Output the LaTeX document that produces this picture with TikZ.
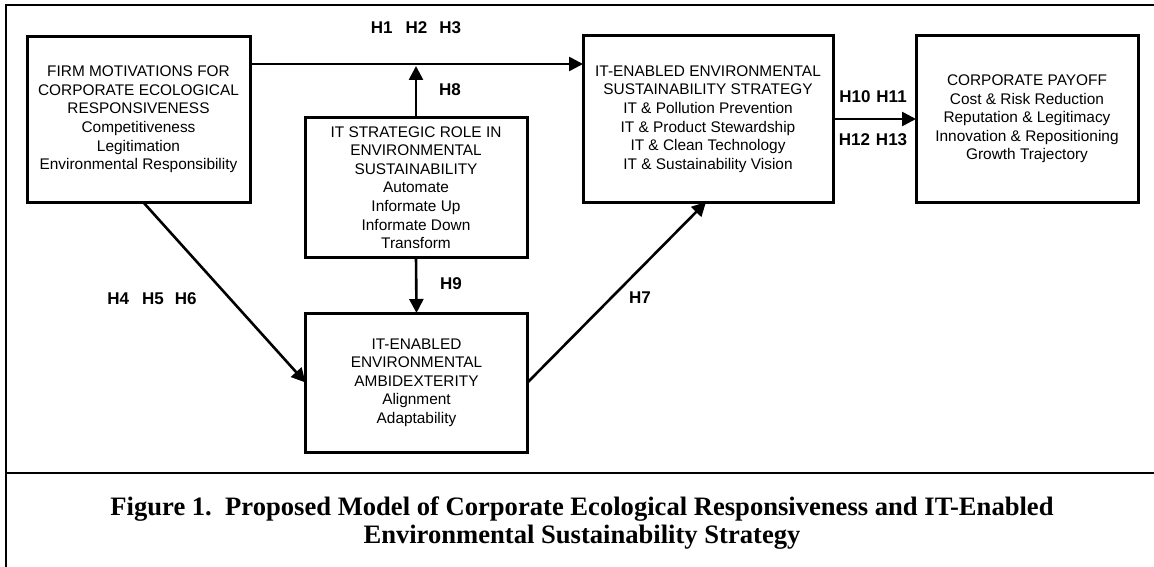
\documentclass[tikz,border=0pt]{standalone}
\usepackage{fontspec}
\setmainfont{Liberation Serif}
\newfontfamily\arial{Liberation Sans}
\usetikzlibrary{arrows.meta}
\tikzset{
  box/.style={draw, line width=3pt, inner sep=0pt, outer sep=0pt, align=center,
    font=\arial\fontsize{15.4}{18.6}\selectfont},
  arr/.style={line width=2.6pt, -{Triangle[length=14pt,width=14pt]}},
  hlab/.style={font=\arial\bfseries\fontsize{17}{19}\selectfont, inner sep=0pt},
  capt/.style={font=\bfseries\fontsize{26.6}{28}\selectfont, inner sep=0pt, anchor=base},
  frame/.style={line width=2pt}
}
\begin{document}
\begin{tikzpicture}[x=1pt,y=-1pt]
\useasboundingbox (0,0) rectangle (1154,567);
% frame
\draw[frame] (6,567) -- (6,5) -- (1154,5);
\draw[frame] (6,473) -- (1154,473);
% boxes
\node[box, minimum width=223pt, minimum height=165pt] (A) at (138.5,119.5)
  {FIRM MOTIVATIONS FOR\\CORPORATE ECOLOGICAL\\RESPONSIVENESS\\Competitiveness\\Legitimation\\Environmental Responsibility};
\node[box, minimum width=222pt, minimum height=139pt] (B) at (416,187.5)
  {IT STRATEGIC ROLE IN\\ENVIRONMENTAL\\SUSTAINABILITY\\Automate\\Informate Up\\Informate Down\\Transform};
\node[box, minimum width=250pt, minimum height=166pt] (C) at (708,119)
  {IT-ENABLED ENVIRONMENTAL\\SUSTAINABILITY STRATEGY\\IT \& Pollution Prevention\\IT \& Product Stewardship\\IT \& Clean Technology\\IT \& Sustainability Vision};
\node[box, minimum width=222pt, minimum height=166pt] (D) at (1027,119)
  {CORPORATE PAYOFF\\Cost \& Risk Reduction\\Reputation \& Legitimacy\\Innovation \& Repositioning\\Growth Trajectory};
\node[box, minimum width=222pt, minimum height=139pt] (E) at (416.5,382.5)
  {IT-ENABLED\\ENVIRONMENTAL\\AMBIDEXTERITY\\Alignment\\Adaptability};
% connectors
\coordinate (j) at (416,64);
\coordinate (jt) at (416,66);
\draw[arr] (A.east |- j) -- (C.west |- j);
\draw[arr] (B.north) -- (jt);
\draw[arr] (B.south) -- (E.north);
\draw[arr] (C.east) -- (D.west);
\draw[arr] ([xshift=4.5pt]A.south) -- (E.west);
\draw[arr] (E.east) -- ([xshift=-2pt]C.south);
% labels
\node[hlab] (l1) at (416,28) {H1\hspace{13pt}H2\hspace{12pt}H3};
\node[hlab] (l8) at (450,90) {H8};
\node[hlab] (l9) at (451,284) {H9};
\node[hlab] (l4) at (152,299) {H4\hspace{13pt}H5\hspace{11pt}H6};
\node[hlab] (l7) at (640,298) {H7};
\node[hlab] (l10) at (873,97) {H10\hspace{6pt}H11};
\node[hlab] (l12) at (873,140) {H12\hspace{6pt}H13};
% caption
\node[capt] (cap1) at (582,515) {Figure 1.\ \ Proposed Model of Corporate Ecological Responsiveness and IT-Enabled};
\node[capt] (cap2) at (582,543) {Environmental Sustainability Strategy};
\end{tikzpicture}
\end{document}
